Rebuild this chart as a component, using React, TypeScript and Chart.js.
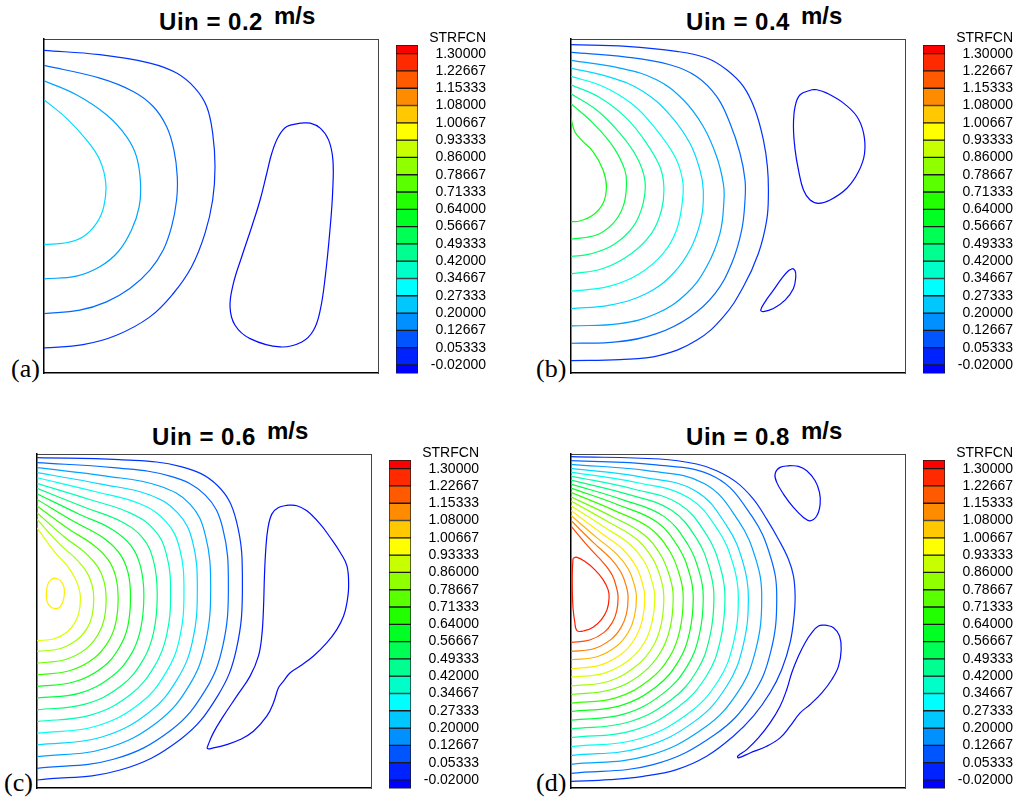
import React, { useEffect, useRef } from "react";
import { Chart, registerables } from "chart.js";

Chart.register(...registerables);

// ---------- legend / level data ----------
const LEVELS = [-0.02, 0.05333, 0.12667, 0.2, 0.27333, 0.34667, 0.42, 0.49333, 0.56667, 0.64, 0.71333, 0.78667, 0.86, 0.93333, 1.00667, 1.08, 1.15333, 1.22667, 1.3];
const LEVEL_LABELS = ["-0.02000", "0.05333", "0.12667", "0.20000", "0.27333", "0.34667", "0.42000", "0.49333", "0.56667", "0.64000", "0.71333", "0.78667", "0.86000", "0.93333", "1.00667", "1.08000", "1.15333", "1.22667", "1.30000"];
// band edges of the colour legend, top to bottom
const BAND_EDGES = [1.33667, 1.3, 1.22667, 1.15333, 1.08, 1.00667, 0.93333, 0.86, 0.78667, 0.71333, 0.64, 0.56667, 0.49333, 0.42, 0.34667, 0.27333, 0.2, 0.12667, 0.05333, -0.02, -0.05667];
const BAND_COLORS = ["#ff0000", "#ff2a00", "#ff5a00", "#ff8c00", "#ffc800", "#ffff00", "#c8ff00", "#90ff00", "#5aff00", "#22ff00", "#00ff22", "#00ff55", "#00ff90", "#00ffc8", "#00ffff", "#00c8ff", "#0090ff", "#0055ff", "#0022ff", "#0000ff"];
// contour line colour for each level index (0 = -0.02 ... 18 = 1.30)
const LINE_COLORS = ["#000bff", "#0033ff", "#0069ff", "#00a3ff", "#00daff", "#00ffed", "#00ffb5", "#00ff7c", "#00ff44", "#0bff17", "#35ff00", "#6cff00", "#a3ff00", "#daff00", "#ffed00", "#ffb400", "#ff7b00", "#ff4a00", "#ff1c00"];

const TITLES = ["Uin = 0.2", "Uin = 0.4", "Uin = 0.6", "Uin = 0.8"];
const UNIT = "m/s";
const PANEL_TAGS = ["(a)", "(b)", "(c)", "(d)"];
const LEGEND_TITLE = "STRFCN";

// ---------- contour lines (domain 0..1000 x 0..1000), [levelIndex, points] ----------
// (a) Uin = 0.2
const A1 = [[0,966],[167,953],[317,928],[397,898],[452,853],[487,798],[505,718],[512,618],[505,518],[482,418],[442,318],[387,238],[317,168],[217,113],[117,85],[0,75]];
const A2 = [[0,921],[167,883],[267,843],[327,798],[367,738],[389,668],[399,588],[397,518],[382,438],[357,368],[317,308],[257,253],[187,213],[107,188],[0,178]];
const A3 = [[0,875],[97,833],[187,773],[247,708],[277,648],[289,568],[285,498],[262,428],[222,363],[167,318],[97,290],[0,282]];
const A4 = [[0,818],[67,763],[127,698],[167,638],[185,568],[179,498],[157,448],[117,408],[67,390],[0,385]];
const A_ISLAND = [[767,748],[727,738],[702,708],[682,658],[667,598],[647,518],[622,438],[592,348],[567,268],[557,198],[572,143],[617,103],[707,78],[772,93],[807,128],[827,188],[842,288],[857,438],[864,538],[865,638],[852,698],[827,733],[797,748],[767,748]];

// (b) Uin = 0.4
const B1 = [[0,983],[166,978],[316,963],[406,943],[466,908],[516,858],[551,788],[576,698],[588,618],[591,538],[586,458],[561,358],[516,258],[456,168],[376,98],[266,53],[146,40],[0,37]];
const B2 = [[0,960],[166,946],[296,923],[376,888],[436,828],[476,748],[506,658],[521,578],[521,518],[511,428],[481,328],[431,238],[356,168],[256,118],[136,93],[0,89]];
const B3 = [[0,936],[146,913],[256,878],[336,818],[396,738],[436,648],[456,568],[458,518],[446,418],[406,318],[346,238],[256,178],[146,148],[0,141]];
const B4 = [[0,913],[116,886],[216,843],[296,773],[356,688],[386,608],[396,548],[391,468],[361,378],[306,298],[226,238],[116,203],[0,193]];
const B5 = [[0,888],[96,858],[186,803],[256,728],[311,648],[334,578],[334,518],[316,428],[276,358],[206,298],[116,260],[0,245]];
const B6 = [[0,863],[86,825],[166,763],[226,688],[266,618],[278,558],[271,488],[241,418],[181,358],[96,313],[0,297]];
const B7 = [[0,836],[76,788],[146,718],[196,648],[221,578],[216,508],[186,438],[126,383],[56,356],[0,349]];
const B8 = [[0,806],[66,748],[126,678],[161,608],[166,558],[156,498],[126,448],[76,413],[0,401]];
const B9 = [[0,763],[11,723],[31,698],[66,663],[96,608],[106,558],[96,508],[66,473],[26,455],[0,453]];
const B_ISLAND1 = [[721,848],[686,833],[671,798],[666,738],[671,668],[681,608],[696,548],[716,518],[741,508],[776,518],[826,553],[861,603],[879,658],[876,718],[856,768],[816,808],[766,838],[736,848],[721,848]];
const B_ISLAND2 = [[664,313],[651,306],[631,283],[606,248],[581,213],[568,188],[576,184],[606,193],[641,218],[666,253],[673,288],[671,306],[664,313]];

// (c) Uin = 0.6
const C1 = [[0,989],[246,983],[431,962],[541,905],[597,799],[615,609],[597,416],[541,276],[431,147],[246,53],[0,24]];
const C2 = [[0,974],[229,959],[401,933],[504,877],[556,778],[573,604],[556,424],[504,293],[401,173],[229,86],[0,59]];
const C3 = [[0,959],[208,934],[364,905],[458,850],[504,757],[520,599],[504,432],[458,311],[364,200],[208,119],[0,94]];
const C4 = [[0,944],[192,910],[336,878],[422,823],[466,737],[480,594],[466,441],[422,329],[336,227],[192,152],[0,129]];
const C5 = [[0,929],[176,887],[308,851],[387,797],[427,717],[440,589],[427,449],[387,347],[308,253],[176,185],[0,164]];
const C6 = [[0,912],[160,863],[280,823],[352,772],[388,698],[400,584],[388,457],[352,365],[280,280],[160,218],[0,199]];
const C7 = [[0,897],[144,840],[252,798],[317,748],[349,679],[360,579],[349,465],[317,382],[252,306],[144,251],[0,234]];
const C8 = [[0,881],[128,819],[224,775],[282,725],[310,663],[320,577],[310,475],[282,401],[224,334],[128,284],[0,269]];
const C9 = [[0,864],[112,797],[196,751],[246,704],[272,647],[280,574],[272,485],[246,420],[196,361],[112,318],[0,304]];
const C10 = [[0,844],[97,774],[170,727],[214,682],[236,632],[243,572],[236,495],[214,439],[170,388],[97,351],[0,339]];
const C11 = [[0,824],[83,751],[145,704],[182,662],[201,618],[207,569],[201,505],[182,458],[145,415],[83,384],[0,374]];
const C12 = [[0,804],[68,730],[119,684],[150,645],[165,607],[170,569],[165,516],[150,478],[119,443],[68,417],[0,409]];
const C13 = [[0,779],[52,708],[91,664],[114,628],[126,596],[130,569],[126,527],[114,496],[91,468],[52,447],[0,441]];
const C_LOOP = [[55,629],[70,621],[80,604],[82,584],[78,559],[68,541],[55,537],[40,543],[30,559],[28,584],[32,609],[42,624],[55,629]];
const C_ISLAND = [[753,847],[723,840],[703,820],[691,775],[685,715],[681,635],[678,535],[673,455],[663,395],[638,335],[598,275],[558,215],[528,165],[513,130],[510,118],[528,120],[568,130],[608,145],[648,170],[688,215],[708,255],[723,300],[738,320],[758,345],[788,365],[828,395],[868,435],[898,475],[918,515],[928,555],[933,605],[928,665],[908,705],[878,750],[848,790],[808,830],[778,845],[753,847]];

// (d) Uin = 0.8
const D1 = [[0,992],[266,985],[376,970],[436,950],[496,915],[546,865],[586,805],[621,745],[651,685],[666,635],[671,575],[668,515],[656,435],[631,355],[596,285],[546,215],[486,155],[406,95],[316,55],[216,35],[116,25],[0,20]];
const D2 = [[0,980],[246,968],[431,931],[542,813],[598,690],[616,572],[598,408],[542,276],[431,160],[246,70],[0,44]];
const D3 = [[0,969],[228,950],[400,911],[502,799],[554,683],[571,572],[554,417],[502,291],[400,181],[228,96],[0,71]];
const D4 = [[0,957],[212,931],[372,890],[467,784],[515,675],[531,572],[515,425],[467,306],[372,201],[212,121],[0,97]];
const D5 = [[0,946],[200,914],[351,870],[441,771],[486,668],[501,572],[486,433],[441,321],[351,223],[200,146],[0,124]];
const D6 = [[0,934],[184,896],[323,851],[406,758],[447,661],[461,572],[447,441],[406,336],[323,244],[184,172],[0,151]];
const D7 = [[0,922],[171,879],[300,832],[377,745],[415,654],[428,572],[415,450],[377,351],[300,264],[171,197],[0,177]];
const D8 = [[0,910],[158,862],[277,814],[348,732],[384,647],[396,572],[384,458],[348,365],[277,284],[158,221],[0,203]];
const D9 = [[0,898],[146,846],[256,797],[322,720],[355,641],[366,572],[355,466],[322,380],[256,304],[146,246],[0,229]];
const D10 = [[0,885],[134,829],[235,779],[296,708],[326,634],[336,572],[326,473],[296,394],[235,324],[134,270],[0,254]];
const D11 = [[0,872],[122,813],[214,762],[269,697],[297,628],[306,572],[297,481],[269,408],[214,344],[122,295],[0,280]];
const D12 = [[0,859],[111,797],[195,746],[245,686],[270,623],[278,572],[270,490],[245,423],[195,365],[111,319],[0,306]];
const D13 = [[0,845],[100,781],[176,730],[221,675],[243,617],[251,572],[243,498],[221,438],[176,385],[100,344],[0,332]];
const D14 = [[0,831],[88,765],[155,715],[194,665],[214,612],[221,572],[214,505],[194,452],[155,404],[88,368],[0,357]];
const D15 = [[0,816],[78,749],[137,700],[172,655],[190,607],[196,572],[190,514],[172,467],[137,425],[78,393],[0,384]];
const D16 = [[0,801],[68,734],[120,686],[150,645],[166,602],[171,572],[166,521],[150,481],[120,445],[68,417],[0,409]];
const D17 = [[0,784],[56,718],[99,672],[124,636],[137,597],[141,572],[137,530],[124,496],[99,466],[56,443],[0,436]];
const D_LOOP = [[6,687],[16,691],[41,679],[71,654],[96,624],[111,594],[114,569],[108,534],[91,504],[66,481],[41,471],[18,471],[11,499],[6,539],[4,589],[4,649],[6,687]];
const D_ISLAND1 = [[656,965],[626,960],[611,940],[616,915],[636,880],[666,840],[696,810],[716,800],[736,815],[746,850],[744,885],[731,920],[706,950],[681,963],[656,965]];
const D_ISLAND2 = [[761,488],[741,485],[721,465],[701,435],[681,395],[661,345],[646,295],[626,245],[596,195],[561,150],[526,115],[499,95],[501,90],[536,105],[586,125],[626,150],[656,185],[686,225],[716,250],[751,285],[781,325],[801,365],[809,415],[804,455],[786,480],[761,488]];

type Contour = [number, number[][]];

const PANEL_A: Contour[] = [[1, A1], [2, A2], [3, A3], [4, A4], [0, A_ISLAND]];
const PANEL_B: Contour[] = [[1, B1], [2, B2], [3, B3], [4, B4], [5, B5], [6, B6], [7, B7], [8, B8], [9, B9], [0, B_ISLAND1], [0, B_ISLAND2]];
const PANEL_C: Contour[] = [[1, C1], [2, C2], [3, C3], [4, C4], [5, C5], [6, C6], [7, C7], [8, C8], [9, C9], [10, C10], [11, C11], [12, C12], [13, C13], [14, C_LOOP], [0, C_ISLAND]];
const PANEL_D: Contour[] = [[1, D1], [2, D2], [3, D3], [4, D4], [5, D5], [6, D6], [7, D7], [8, D8], [9, D9], [10, D10], [11, D11], [12, D12], [13, D13], [14, D14], [15, D15], [16, D16], [17, D17], [18, D_LOOP], [0, D_ISLAND1], [0, D_ISLAND2]];

const SANS = '"Liberation Sans", Arial, Helvetica, sans-serif';
const SERIF = '"Liberation Serif", "Times New Roman", serif';

function frameAxis(position: string, strong: boolean) {
  return {
    type: "linear" as const,
    position,
    min: 0,
    max: 1000,
    grid: { display: false, drawTicks: false },
    ticks: { display: false },
    border: strong
      ? { display: true, color: "#000", width: 1.5 }
      : { display: true, color: "#444", width: 1, dash: [1, 1] },
  };
}

function ContourPlot({ left, top, size, contours }: { left: number; top: number; size: number; contours: Contour[] }) {
  const ref = useRef<HTMLCanvasElement>(null);
  useEffect(() => {
    const chart = new Chart(ref.current as HTMLCanvasElement, {
      type: "scatter",
      data: {
        datasets: contours.map(([lvl, pts]) => ({
          data: pts.map(([x, y]) => ({ x, y })),
          showLine: true,
          borderColor: LINE_COLORS[lvl],
          backgroundColor: LINE_COLORS[lvl],
          borderWidth: 1.2,
          pointRadius: 0,
          pointHoverRadius: 0,
          tension: 0.4,
          fill: false,
        })),
      },
      options: {
        responsive: false,
        animation: false,
        events: [],
        layout: { padding: 2 },
        plugins: { legend: { display: false }, tooltip: { enabled: false }, title: { display: false } },
        scales: {
          x: frameAxis("bottom", true),
          x2: frameAxis("top", false),
          y: frameAxis("left", true),
          y2: frameAxis("right", false),
        } as any,
      },
    });
    return () => chart.destroy();
  }, []);
  const s = size + 4;
  return <canvas ref={ref} width={s} height={s} style={{ position: "absolute", left: left - 2, top: top - 2, width: s, height: s }} />;
}

function ColorLegend({ left, top }: { left: number; top: number }) {
  const ref = useRef<HTMLCanvasElement>(null);
  useEffect(() => {
    const chart = new Chart(ref.current as HTMLCanvasElement, {
      type: "bar",
      data: {
        labels: [""],
        datasets: BAND_COLORS.map((c, i) => ({
          data: [[BAND_EDGES[i + 1], BAND_EDGES[i]]],
          backgroundColor: c,
          borderColor: "#1a1a1a",
          borderWidth: 1,
          borderSkipped: false,
          grouped: false,
          barPercentage: 1,
          categoryPercentage: 1,
        })) as any,
      },
      options: {
        responsive: false,
        animation: false,
        events: [],
        layout: { padding: 0 },
        plugins: {
          legend: { display: false },
          tooltip: { enabled: false },
          title: {
            display: true,
            text: LEGEND_TITLE,
            align: "end",
            color: "#000",
            font: { family: SANS, size: 14, weight: "normal", lineHeight: 1 },
            padding: { top: 3, bottom: 0 },
          },
        },
        scales: {
          x: { display: false },
          y: {
            position: "right",
            min: BAND_EDGES[BAND_EDGES.length - 1],
            max: BAND_EDGES[0],
            grid: { display: false, drawTicks: true, tickLength: 12 },
            border: { display: false },
            afterBuildTicks: (scale: any) => {
              scale.ticks = LEVELS.map((v) => ({ value: v }));
            },
            afterFit: (scale: any) => {
              scale.width = 68;
            },
            ticks: {
              padding: 0,
              crossAlign: "far",
              color: "#000",
              autoSkip: false,
              font: { family: SANS, size: 14 },
              callback: (_v: any, i: number) => LEVEL_LABELS[i],
            },
          },
        } as any,
      },
    });
    return () => chart.destroy();
  }, []);
  return <canvas ref={ref} width={90} height={354} style={{ position: "absolute", left, top, width: 90, height: 354 }} />;
}

function Title({ left, width, top, text }: { left: number; width: number; top: number; text: string }) {
  return (
    <div style={{ position: "absolute", left, width, top, textAlign: "center", font: `bold 24px ${SANS}`, lineHeight: "24px", color: "#000", whiteSpace: "nowrap" }}>
      <span style={{ position: "relative", letterSpacing: "0.5px" }}>
        {text}
        <span style={{ position: "absolute", left: "calc(100% + 11px)", top: -4, letterSpacing: 0 }}>{UNIT}</span>
      </span>
    </div>
  );
}

function Tag({ left, top, text }: { left: number; top: number; text: string }) {
  return <div style={{ position: "absolute", left, top, font: `26px ${SERIF}`, lineHeight: "26px", color: "#000" }}>{text}</div>;
}

const PANELS = [
  { box: [44, 39], legend: [396, 28], titleTop: 10, tag: [11, 356], contours: PANEL_A },
  { box: [571, 39], legend: [923, 28], titleTop: 10, tag: [536, 356], contours: PANEL_B },
  { box: [37, 454], legend: [389, 443], titleTop: 425, tag: [4, 770], contours: PANEL_C },
  { box: [571, 454], legend: [923, 443], titleTop: 425, tag: [536, 770], contours: PANEL_D },
];

export default function App() {
  const size = 334;
  return (
    <div style={{ position: "absolute", left: 0, top: 0, width: 1019, height: 802, background: "#fff", overflow: "hidden" }}>
      {PANELS.map((p, i) => (
        <React.Fragment key={i}>
          <Title left={p.box[0]} width={size} top={p.titleTop} text={TITLES[i]} />
          <ContourPlot left={p.box[0]} top={p.box[1]} size={size} contours={p.contours} />
          <ColorLegend left={p.legend[0]} top={p.legend[1]} />
          <Tag left={p.tag[0]} top={p.tag[1]} text={PANEL_TAGS[i]} />
        </React.Fragment>
      ))}
    </div>
  );
}
